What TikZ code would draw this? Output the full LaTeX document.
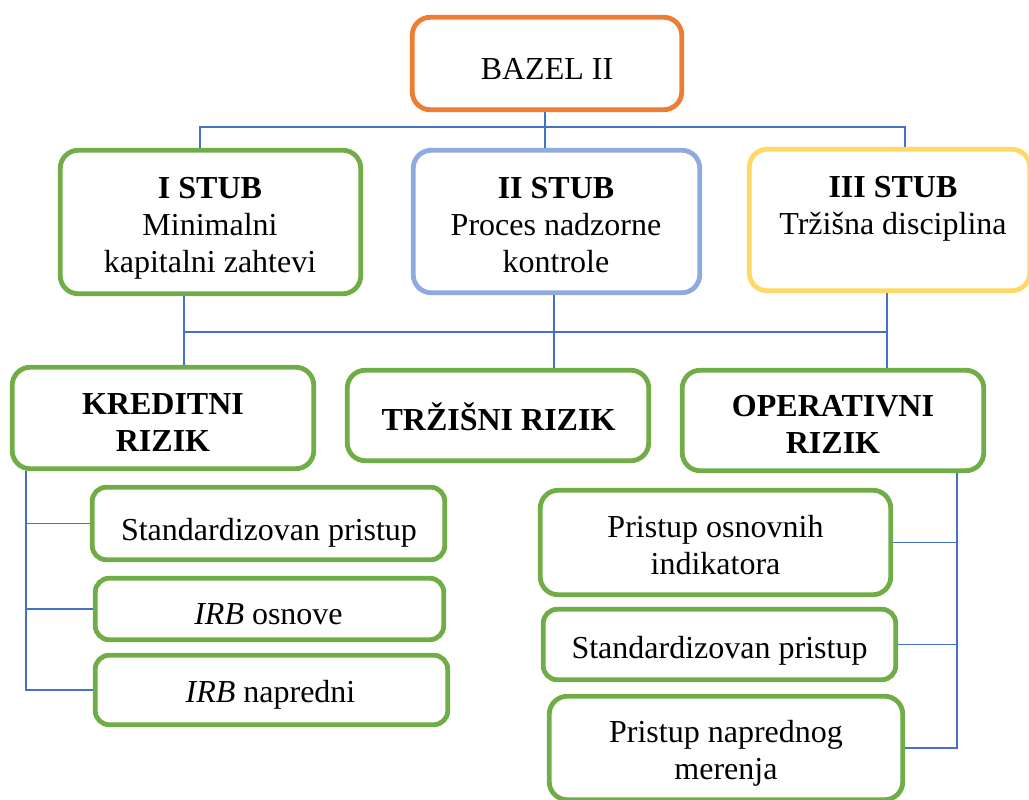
\documentclass[tikz,border=0pt]{standalone}
\usepackage{fontspec}
\setmainfont{Liberation Serif}
\definecolor{pgreen}{HTML}{70AD47}
\definecolor{porange}{HTML}{ED7D31}
\definecolor{pblue}{HTML}{8FAADC}
\definecolor{pyellow}{HTML}{FFD966}
\definecolor{linkblue}{HTML}{4472C4}
\tikzset{
  box/.style={draw=pgreen, line width=4.8pt, rounded corners=18pt, fill=white},
  smallbox/.style={box, rounded corners=14pt},
  txt/.style={font=\fontsize{32}{37}\selectfont, align=center, inner sep=0pt,
    execute at begin node=\strut, execute at end node=\strut, yshift=-3pt},
  conn/.style={draw=linkblue, line width=1.2pt}
}
\begin{document}
\begin{tikzpicture}[x=1pt, y=-1pt]
\useasboundingbox (0,0) rectangle (1029,800);
\clip (0,0) rectangle (1029,800);

% top level
\node[box, draw=porange, minimum width=269.5, minimum height=92.5] (bazel) at (547,63.5) {};
\node[txt] (tbazel) at (547,69.6) {BAZEL II};

% three pillars
\node[box, minimum width=300.5, minimum height=143.5] (s1) at (210.5,222) {};
\node[txt] (ts1) at (210,227.6) {\textbf{I STUB}\\Minimalni\\kapitalni zahtevi};
\node[box, draw=pblue, minimum width=286.5, minimum height=142.5] (s2) at (556.5,221.5) {};
\node[txt] (ts2) at (556,227) {\textbf{II STUB}\\Proces nadzorne\\kontrole};
\node[box, draw=pyellow, minimum width=280.5, minimum height=141.5] (s3) at (889.5,220) {};
\node[txt] (ts3) at (893,207.6) {\textbf{III STUB}\\Tržišna disciplina};

% risk types
\node[box, minimum width=301.5, minimum height=101.5] (k) at (163,418) {};
\node[txt, font=\fontsize{32}{37}\selectfont\bfseries] (tk) at (163,424.6) {KREDITNI\\RIZIK};
\node[box, minimum width=301.5, minimum height=90.5] (t) at (498,415.5) {};
\node[txt, font=\fontsize{32}{37}\selectfont\bfseries] (tt) at (498.5,419.6) {TRŽIŠNI RIZIK};
\node[box, minimum width=301.5, minimum height=100.5] (o) at (833,420.5) {};
\node[txt, font=\fontsize{32}{37}\selectfont\bfseries] (to) at (833,426.6) {OPERATIVNI\\RIZIK};

% credit risk approaches
\node[smallbox, minimum width=352.5, minimum height=72.5] (l1) at (268.5,523.5) {};
\node[txt] (tl1) at (269,529.6) {Standardizovan pristup};
\node[smallbox, minimum width=348.5, minimum height=61.5] (l2) at (269.5,609) {};
\node[txt] (tl2) at (268.5,613.6) {\textit{IRB} osnove};
\node[smallbox, minimum width=352.5, minimum height=69.5] (l3) at (271.5,690) {};
\node[txt] (tl3) at (270.5,691.6) {\textit{IRB} napredni};

% operational risk approaches
\node[box, minimum width=350.5, minimum height=104.5] (r1) at (715.5,542.5) {};
\node[txt] (tr1) at (715.5,547) {Pristup osnovnih\\indikatora};
\node[smallbox, minimum width=352.5, minimum height=70.5] (r2) at (719.5,644.5) {};
\node[txt] (tr2) at (719.5,647.6) {Standardizovan pristup};
\node[box, minimum width=353.5, minimum height=103.5] (r3) at (726,748) {};
\node[txt] (tr3) at (726,752.6) {Pristup naprednog\\merenja};

% connector columns and bus lines
\coordinate (a0) at (200,0);
\coordinate (a1) at (545,0);
\coordinate (a2) at (905,0);
\coordinate (bus1) at (0,127);
\coordinate (b0) at (184,0);
\coordinate (b1) at (554,0);
\coordinate (b2) at (887,0);
\coordinate (bus2) at (0,332);
\coordinate (lx) at (26,0);
\coordinate (rx) at (957,0);

\draw[conn] (bazel.south -| a1) -- (s2.north -| a1);
\draw[conn] (s1.north -| a0) |- (a2 |- bus1) -- (s3.north -| a2);

\draw[conn] (s1.south -| b0) -- (k.north -| b0);
\draw[conn] (b0 |- bus2) -- (b2 |- bus2);
\draw[conn] (s2.south -| b1) -- (t.north -| b1);
\draw[conn] (s3.south -| b2) -- (o.north -| b2);

\draw[conn] (k.south -| lx) |- (l3.west);
\draw[conn] (lx |- l1.west) -- (l1.west);
\draw[conn] (lx |- l2.west) -- (l2.west);

\draw[conn] (o.south -| rx) |- (r3.east);
\draw[conn] (rx |- r1.east) -- (r1.east);
\draw[conn] (rx |- r2.east) -- (r2.east);
\end{tikzpicture}
\end{document}
